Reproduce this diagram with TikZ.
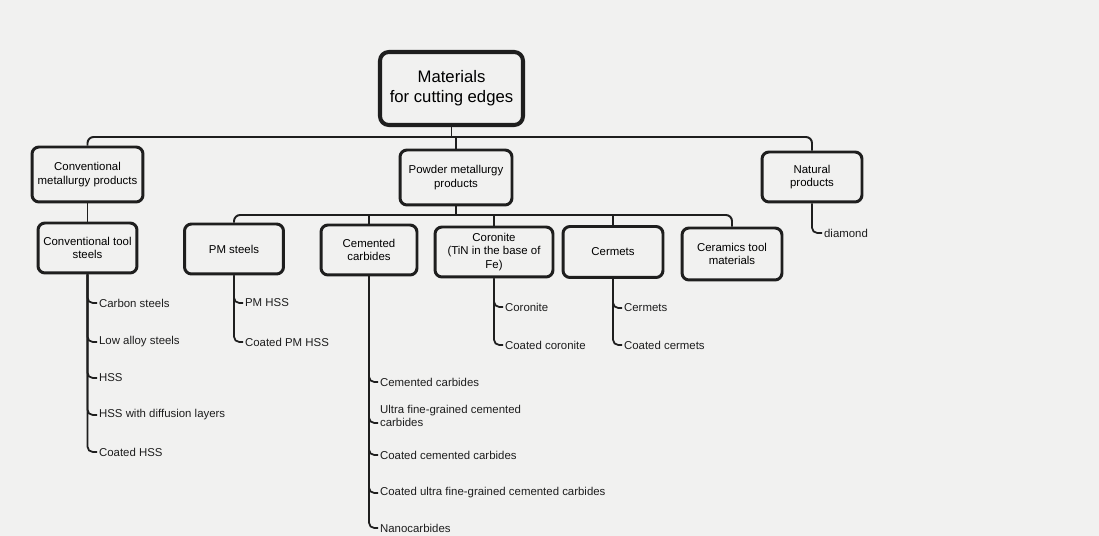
\documentclass[tikz,border=0pt]{standalone}
\usepackage{fontspec}
\setmainfont{Liberation Sans}
\usetikzlibrary{calc}

\definecolor{paper}{RGB}{241,241,240}
\definecolor{ink}{RGB}{30,30,30}

\tikzset{
  mainbox/.style={draw=ink, line width=2.3pt, rounded corners=5pt, align=center,
    inner sep=1pt, minimum width=2.86cm, minimum height=1.46cm,
    font=\fontsize{9.5}{11.3}\selectfont},
  groupbox/.style={draw=ink, line width=1.7pt, rounded corners=4pt, align=center,
    inner sep=1pt, font=\fontsize{6.5}{7.6}\selectfont},
  leaf/.style={anchor=west, align=left, inner sep=1pt, text=ink,
    font=\fontsize{6.5}{7.6}\selectfont},
  wire/.style={draw=ink, line width=1.1pt, rounded corners=3.5pt},
  twig/.style={draw=ink, line width=1pt, rounded corners=3pt}
}

\begin{document}
\begin{tikzpicture}[x=0.02cm, y=-0.02cm]
\fill[paper] (0,0) rectangle (1099,536);
\useasboundingbox (0,0) rectangle (1099,536);

% root and first level
\node[mainbox] (mat) at (451.5,88.5) {Materials\\for cutting edges};
\node[groupbox, minimum width=2.22cm, minimum height=1.1cm] (conv) at (87.5,174.5) {Conventional\\metallurgy products};
\node[groupbox, minimum width=2.24cm, minimum height=1.1cm] (powder) at (456,177.5) {Powder metallurgy\\products};
\node[groupbox, minimum width=2cm, minimum height=1cm] (natural) at (812,177) {Natural\\products};

% second level
\node[groupbox, minimum width=1.98cm, minimum height=1cm] (ctool) at (87.5,248) {Conventional tool\\steels};
\node[groupbox, minimum width=1.98cm, minimum height=1cm] (pmst) at (234,249) {PM steels};
\node[groupbox, minimum width=1.92cm, minimum height=1cm] (cemc) at (369,250) {Cemented\\carbides};
\node[groupbox, minimum width=2.36cm, minimum height=1cm] (coro) at (494,252) {Coronite\\(TiN in the base of\\Fe)};
\node[groupbox, minimum width=2cm, minimum height=1.02cm] (cerm) at (613,252) {Cermets};
\node[groupbox, minimum width=2cm, minimum height=1.04cm] (ceram) at (732,254) {Ceramics tool\\materials};

% buses
\coordinate (bus) at (mat.south |- 0,137);
\coordinate (bus2) at (powder.south |- 0,215);
\draw[wire] (conv.north) |- (bus) -| (natural.north);
\draw[wire] (mat.south) -- (bus);
\draw[wire] (powder.north) -- (powder.north |- bus);
\draw[wire] (conv.south) -- (ctool.north);
\draw[wire] (pmst.north) |- (bus2) -| (ceram.north);
\draw[wire] (powder.south) -- (bus2);
\draw[wire] (cemc.north) -- (cemc.north |- bus2);
\draw[wire] (coro.north) -- (coro.north |- bus2);
\draw[wire] (cerm.north) -- (cerm.north |- bus2);

% leaves
\node[leaf] (carbon) at (97,303) {Carbon steels};
\node[leaf] (lowalloy) at (97,342) {Low alloy steels};
\node[leaf] (hss) at (97,378) {HSS};
\node[leaf] (hssdif) at (97,415) {HSS with diffusion layers};
\node[leaf] (coatedhss) at (97,452) {Coated HSS};

\node[leaf] (pmhss) at (243,303) {PM HSS};
\node[leaf] (coatedpm) at (243,342) {Coated PM HSS};

\node[leaf] (cemented) at (378,382) {Cemented carbides};
\node[leaf] (ultra) at (378,416) {Ultra fine-grained cemented\\carbides};
\node[leaf] (coatedcem) at (378,455) {Coated cemented carbides};
\node[leaf] (coatedultra) at (378,493) {Coated ultra fine-grained cemented carbides};
\node[leaf] (nano) at (378,528) {Nanocarbides};

\node[leaf] (coronite) at (503,307) {Coronite};
\node[leaf] (coatedcoro) at (503,345) {Coated coronite};

\node[leaf] (cermets) at (622,308) {Cermets};
\node[leaf] (coatedcerm) at (622,345) {Coated cermets};

\node[leaf] (diamond) at (822,233) {diamond};

\foreach \lf in {carbon,lowalloy,hss,hssdif,coatedhss}
  \draw[twig] (ctool.south) |- (\lf.west);
\foreach \lf in {pmhss,coatedpm}
  \draw[twig] (pmst.south) |- (\lf.west);
\foreach \lf in {cemented,coatedcem,coatedultra,nano}
  \draw[twig] (cemc.south) |- (\lf.west);
\draw[twig] (cemc.south) |- ($(ultra.south west)+(0,-6)$);
\foreach \lf in {coronite,coatedcoro}
  \draw[twig] (coro.south) |- (\lf.west);
\foreach \lf in {cermets,coatedcerm}
  \draw[twig] (cerm.south) |- (\lf.west);
\draw[twig] (natural.south) |- (diamond.west);
\end{tikzpicture}
\end{document}
